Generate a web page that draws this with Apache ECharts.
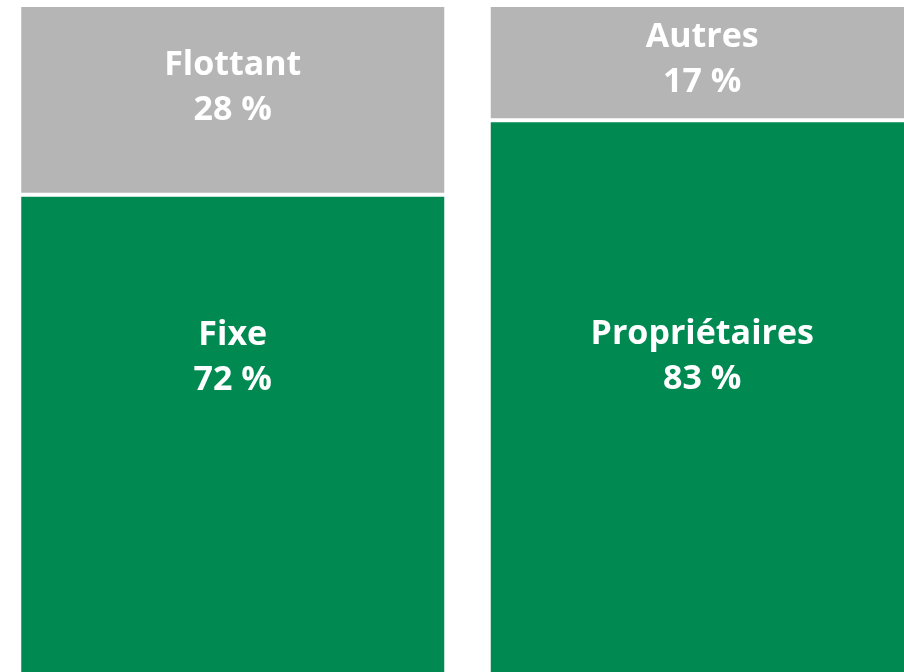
<!DOCTYPE html>
<html>
<head>
<meta charset="utf-8">
<script src="https://cdn.jsdelivr.net/npm/echarts@6/dist/echarts.min.js"></script>
<style>
  html, body { margin: 0; padding: 0; background: #ffffff; }
  #chart { width: 904px; height: 672px; }
</style>
</head>
<body>
<div id="chart"></div>
<script>
// Two 100 % stacked columns: interest-rate type and occupancy status
const categories = ['Taux', 'Statut'];
const baseNames = ['Fixe', 'Propriétaires'];
const baseValues = [72, 83];
const topNames = ['Flottant', 'Autres'];
const topValues = [28, 17];

const GREEN = '#008a52';
const GREY = '#b5b5b5';

// vertical label offsets (px from each segment's top edge)
const baseLabelY = [163, 237];
const topLabelY = [83, 55];

function segData(values, labelY) {
  return values.map((v, i) => ({
    value: v,
    label: { position: ['50%', labelY[i]] }
  }));
}

const labelStyle = {
  show: true,
  color: '#ffffff',
  fontFamily: 'Open Sans',
  fontWeight: 'bold',
  fontSize: 34,
  lineHeight: 45,
  align: 'center',
  verticalAlign: 'middle'
};

const chart = echarts.init(document.getElementById('chart'), null, { renderer: 'canvas' });
chart.setOption({
  animation: false,
  backgroundColor: '#ffffff',
  grid: {
    left: -2, width: 939, top: 5, height: 678,
    containLabel: false,
    outerBoundsMode: 'none'
  },
  xAxis: {
    type: 'category',
    data: categories,
    show: false
  },
  yAxis: {
    type: 'value',
    min: 0,
    max: 100,
    show: false
  },
  series: [
    {
      type: 'bar',
      stack: 'total',
      barWidth: 427,
      data: segData(baseValues, baseLabelY),
      itemStyle: { color: GREEN, borderColor: '#ffffff', borderWidth: 2 },
      label: Object.assign({}, labelStyle, {
        formatter: p => baseNames[p.dataIndex] + '\n' + p.value + ' %'
      })
    },
    {
      type: 'bar',
      stack: 'total',
      barWidth: 427,
      data: segData(topValues, topLabelY),
      itemStyle: { color: GREY, borderColor: '#ffffff', borderWidth: 2 },
      label: Object.assign({}, labelStyle, {
        formatter: p => topNames[p.dataIndex] + '\n' + p.value + ' %'
      })
    }
  ]
});
</script>
</body>
</html>
